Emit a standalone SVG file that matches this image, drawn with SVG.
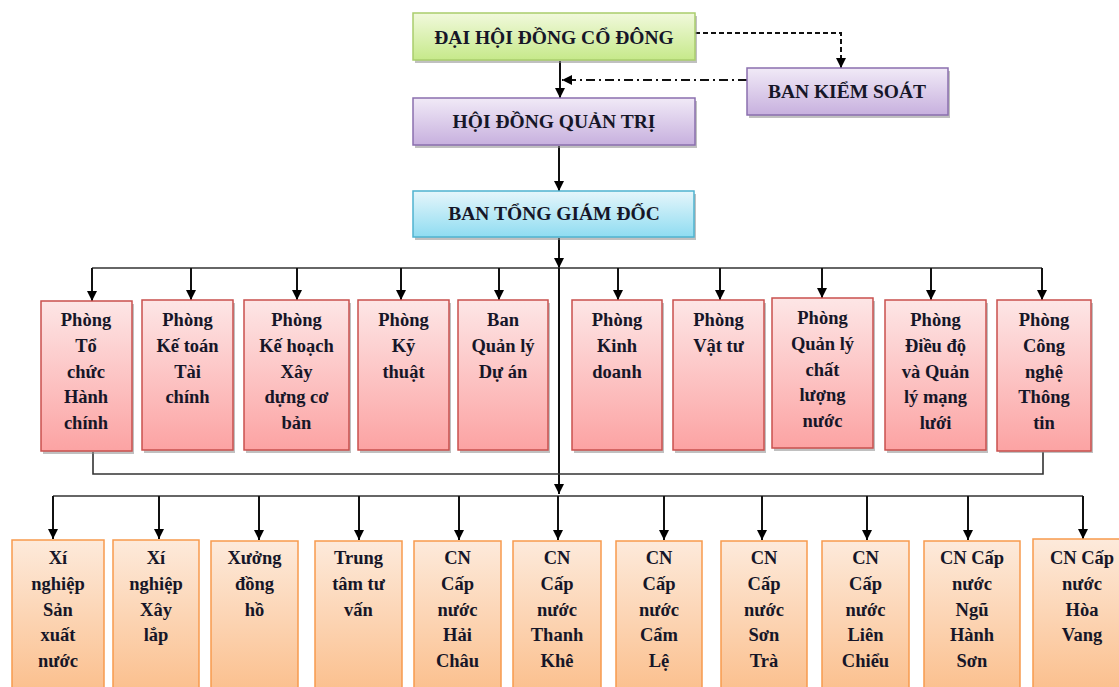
<svg xmlns="http://www.w3.org/2000/svg" width="1119" height="687" viewBox="0 0 1119 687">
<defs>
<linearGradient id="gGreen" x1="0" y1="0" x2="0" y2="1"><stop offset="0" stop-color="#f1f9dc"/><stop offset="1" stop-color="#c6e98a"/></linearGradient>
<linearGradient id="gPurple" x1="0" y1="0" x2="0" y2="1"><stop offset="0" stop-color="#f1eaf7"/><stop offset="1" stop-color="#c7b0de"/></linearGradient>
<linearGradient id="gCyan" x1="0" y1="0" x2="0" y2="1"><stop offset="0" stop-color="#e6f6fb"/><stop offset="1" stop-color="#8fdcf1"/></linearGradient>
<linearGradient id="gPink" x1="0" y1="0" x2="0" y2="1"><stop offset="0" stop-color="#fde6e6"/><stop offset="1" stop-color="#fca3a3"/></linearGradient>
<linearGradient id="gPeach" x1="0" y1="0" x2="0" y2="1"><stop offset="0" stop-color="#fdeadb"/><stop offset="1" stop-color="#fbbd89"/></linearGradient>
<marker id="arr" markerUnits="userSpaceOnUse" markerWidth="10" markerHeight="11" refX="10" refY="5" orient="auto"><path d="M0,0 L10,5 L0,10 z" fill="#000"/></marker>
</defs>
<style>
.sh{fill:#8c8c8c;opacity:0.55}
.green{fill:url(#gGreen);stroke:#a9cd6c;stroke-width:1.5}
.purple{fill:url(#gPurple);stroke:#8a6fae;stroke-width:1.5}
.cyan{fill:url(#gCyan);stroke:#4fb3cf;stroke-width:1.5}
.pink{fill:url(#gPink);stroke:#c9504e;stroke-width:1.5}
.peach{fill:url(#gPeach);stroke:#f79a4e;stroke-width:1.5}
text{font-family:"Liberation Serif","Times New Roman",serif;font-weight:bold;font-size:18.5px;fill:#161628;text-anchor:middle}
.h{font-size:19.5px}
.c{fill:none;stroke:#111;stroke-width:2}
.b{fill:none;stroke:#333;stroke-width:1.6}
.dash{fill:none;stroke:#111;stroke-width:2;stroke-dasharray:5,3}
.dd{fill:none;stroke:#111;stroke-width:2;stroke-dasharray:9,4,2,4}
</style>

<g id="connectors">
<path class="dash" d="M695,33 H841 V68" marker-end="url(#arr)"/>
<path class="dd" d="M747,80 H562" marker-end="url(#arr)"/>
<path class="c" d="M560,61 V98" marker-end="url(#arr)"/>
<path class="c" d="M559,146 V191" marker-end="url(#arr)"/>
<path class="c" d="M559,238 V268" marker-end="url(#arr)"/>
<path class="b" d="M92,268 H1042"/>
<path class="c" d="M92,268 V301" marker-end="url(#arr)"/>
<path class="c" d="M191,268 V300" marker-end="url(#arr)"/>
<path class="c" d="M297,268 V300" marker-end="url(#arr)"/>
<path class="c" d="M401,268 V300" marker-end="url(#arr)"/>
<path class="c" d="M499,268 V300" marker-end="url(#arr)"/>
<path class="c" d="M618,268 V300" marker-end="url(#arr)"/>
<path class="c" d="M720,268 V300" marker-end="url(#arr)"/>
<path class="c" d="M822,268 V298" marker-end="url(#arr)"/>
<path class="c" d="M931,268 V300" marker-end="url(#arr)"/>
<path class="c" d="M1042,268 V300" marker-end="url(#arr)"/>
<path class="c" d="M559,268 V494" marker-end="url(#arr)"/>
<path class="b" d="M93,452 V474 H1043 V452"/>
<path class="b" d="M53,496 H1083"/>
<path class="c" d="M53,496 V539" marker-end="url(#arr)"/>
<path class="c" d="M159,496 V539" marker-end="url(#arr)"/>
<path class="c" d="M259,496 V540" marker-end="url(#arr)"/>
<path class="c" d="M359,496 V540" marker-end="url(#arr)"/>
<path class="c" d="M459,496 V540" marker-end="url(#arr)"/>
<path class="c" d="M558,496 V540" marker-end="url(#arr)"/>
<path class="c" d="M664,496 V540" marker-end="url(#arr)"/>
<path class="c" d="M762,496 V540" marker-end="url(#arr)"/>
<path class="c" d="M867,496 V540" marker-end="url(#arr)"/>
<path class="c" d="M968,496 V540" marker-end="url(#arr)"/>
<path class="c" d="M1083,496 V539" marker-end="url(#arr)"/>
</g>

<g id="dai-hoi"><rect class="sh" x="415" y="16" width="282" height="47"/><rect class="green" x="413" y="13" width="282" height="47"/><text class="h" x="554" y="44">ĐẠI HỘI ĐỒNG CỔ ĐÔNG</text></g>
<g id="ban-kiem-soat"><rect class="sh" x="749" y="71" width="201" height="47"/><rect class="purple" x="747" y="68" width="201" height="47"/><text class="h" x="847" y="98">BAN KIỂM SOÁT</text></g>
<g id="hoi-dong-quan-tri"><rect class="sh" x="415" y="101" width="282" height="47"/><rect class="purple" x="413" y="98" width="282" height="47"/><text class="h" x="554" y="128">HỘI ĐỒNG QUẢN TRỊ</text></g>
<g id="ban-tong-giam-doc"><rect class="sh" x="415" y="194" width="281" height="46"/><rect class="cyan" x="413" y="191" width="281" height="46"/><text class="h" x="554" y="220">BAN TỔNG GIÁM ĐỐC</text></g>

<g id="p1"><rect class="sh" x="43" y="304" width="91" height="150"/><rect class="pink" x="41" y="301" width="91" height="150"/><text x="86" y="326">Phòng</text><text x="86" y="352">Tổ</text><text x="86" y="378">chức</text><text x="86" y="403">Hành</text><text x="86" y="429">chính</text></g>
<g id="p2"><rect class="sh" x="144" y="303" width="91" height="150"/><rect class="pink" x="142" y="300" width="91" height="150"/><text x="187.5" y="326">Phòng</text><text x="187.5" y="352">Kế toán</text><text x="187.5" y="378">Tài</text><text x="187.5" y="403">chính</text></g>
<g id="p3"><rect class="sh" x="246" y="303" width="105" height="150"/><rect class="pink" x="244" y="300" width="105" height="150"/><text x="296.5" y="326">Phòng</text><text x="296.5" y="352">Kế hoạch</text><text x="296.5" y="378">Xây</text><text x="296.5" y="403">dựng cơ</text><text x="296.5" y="429">bản</text></g>
<g id="p4"><rect class="sh" x="360" y="303" width="91" height="150"/><rect class="pink" x="358" y="300" width="91" height="150"/><text x="403.5" y="326">Phòng</text><text x="403.5" y="352">Kỹ</text><text x="403.5" y="378">thuật</text></g>
<g id="p5"><rect class="sh" x="460" y="303" width="90" height="150"/><rect class="pink" x="458" y="300" width="90" height="150"/><text x="503" y="326">Ban</text><text x="503" y="352">Quản lý</text><text x="503" y="378">Dự án</text></g>
<g id="p6"><rect class="sh" x="574" y="303" width="90" height="150"/><rect class="pink" x="572" y="300" width="90" height="150"/><text x="617" y="326">Phòng</text><text x="617" y="352">Kinh</text><text x="617" y="378">doanh</text></g>
<g id="p7"><rect class="sh" x="675" y="303" width="91" height="150"/><rect class="pink" x="673" y="300" width="91" height="150"/><text x="718.5" y="326">Phòng</text><text x="718.5" y="352">Vật tư</text></g>
<g id="p8"><rect class="sh" x="774" y="301" width="101" height="150"/><rect class="pink" x="772" y="298" width="101" height="150"/><text x="822.5" y="324">Phòng</text><text x="822.5" y="350">Quản lý</text><text x="822.5" y="376">chất</text><text x="822.5" y="401">lượng</text><text x="822.5" y="427">nước</text></g>
<g id="p9"><rect class="sh" x="887" y="303" width="101" height="150"/><rect class="pink" x="885" y="300" width="101" height="150"/><text x="935.5" y="326">Phòng</text><text x="935.5" y="352">Điều độ</text><text x="935.5" y="378">và Quản</text><text x="935.5" y="403">lý mạng</text><text x="935.5" y="429">lưới</text></g>
<g id="p10"><rect class="sh" x="999" y="303" width="94" height="150"/><rect class="pink" x="997" y="300" width="94" height="151"/><text x="1044" y="326">Phòng</text><text x="1044" y="352">Công</text><text x="1044" y="378">nghệ</text><text x="1044" y="403">Thông</text><text x="1044" y="429">tin</text></g>

<g id="b1"><rect class="peach" x="12" y="540" width="92" height="160"/><text x="58" y="564">Xí</text><text x="58" y="590">nghiệp</text><text x="58" y="616">Sản</text><text x="58" y="641">xuất</text><text x="58" y="667">nước</text></g>
<g id="b2"><rect class="peach" x="113" y="540" width="86" height="160"/><text x="156" y="564">Xí</text><text x="156" y="590">nghiệp</text><text x="156" y="616">Xây</text><text x="156" y="641">lắp</text></g>
<g id="b3"><rect class="peach" x="211" y="541" width="87" height="160"/><text x="254.5" y="564">Xưởng</text><text x="254.5" y="590">đồng</text><text x="254.5" y="616">hồ</text></g>
<g id="b4"><rect class="peach" x="315" y="541" width="87" height="160"/><text x="358.5" y="564">Trung</text><text x="358.5" y="590">tâm tư</text><text x="358.5" y="616">vấn</text></g>
<g id="b5"><rect class="peach" x="414" y="541" width="87" height="160"/><text x="457.5" y="564">CN</text><text x="457.5" y="590">Cấp</text><text x="457.5" y="616">nước</text><text x="457.5" y="641">Hải</text><text x="457.5" y="667">Châu</text></g>
<g id="b6"><rect class="peach" x="513" y="541" width="88" height="160"/><text x="557" y="564">CN</text><text x="557" y="590">Cấp</text><text x="557" y="616">nước</text><text x="557" y="641">Thanh</text><text x="557" y="667">Khê</text></g>
<g id="b7"><rect class="peach" x="616" y="541" width="86" height="160"/><text x="659" y="564">CN</text><text x="659" y="590">Cấp</text><text x="659" y="616">nước</text><text x="659" y="641">Cẩm</text><text x="659" y="667">Lệ</text></g>
<g id="b8"><rect class="peach" x="721" y="541" width="86" height="160"/><text x="764" y="564">CN</text><text x="764" y="590">Cấp</text><text x="764" y="616">nước</text><text x="764" y="641">Sơn</text><text x="764" y="667">Trà</text></g>
<g id="b9"><rect class="peach" x="822" y="541" width="87" height="160"/><text x="865.5" y="564">CN</text><text x="865.5" y="590">Cấp</text><text x="865.5" y="616">nước</text><text x="865.5" y="641">Liên</text><text x="865.5" y="667">Chiểu</text></g>
<g id="b10"><rect class="peach" x="924" y="541" width="96" height="160"/><text x="972" y="564">CN Cấp</text><text x="972" y="590">nước</text><text x="972" y="616">Ngũ</text><text x="972" y="641">Hành</text><text x="972" y="667">Sơn</text></g>
<g id="b11"><rect class="peach" x="1033" y="539" width="92" height="160"/><text x="1082" y="564">CN Cấp</text><text x="1082" y="590">nước</text><text x="1082" y="616">Hòa</text><text x="1082" y="641">Vang</text></g>
</svg>
